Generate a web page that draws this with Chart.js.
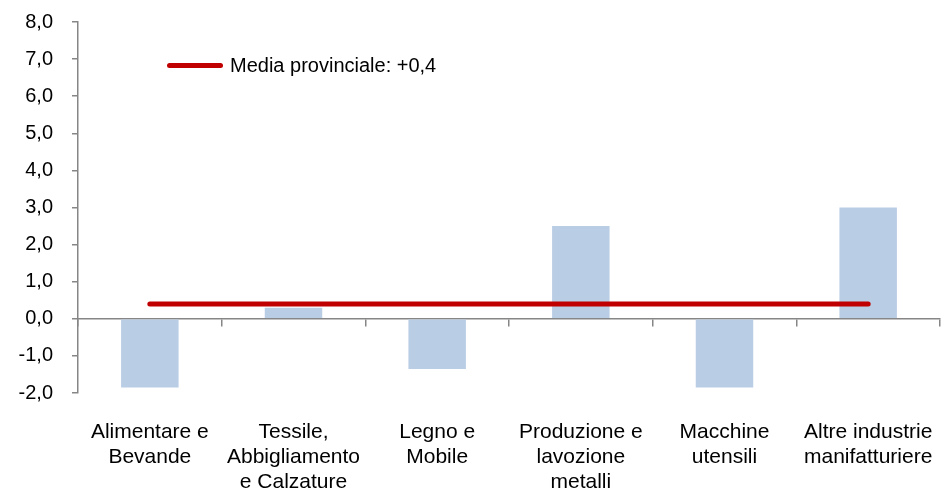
<!DOCTYPE html>
<html>
<head>
<meta charset="utf-8">
<script src="https://cdn.jsdelivr.net/npm/chart.js@4/dist/chart.umd.min.js"></script>
<style>
  body { margin: 0; background: #fff; }
  #wrap { position: relative; width: 941px; height: 490px; }
  #legend { position: absolute; left: 167px; top: 52px; height: 26px; display: flex; align-items: center;
            font-family: "Liberation Sans", Arial, sans-serif; font-size: 20px; color: #000; }
  #legend .swatch { display: inline-block; width: 56px; height: 5px; background: #C00000; border-radius: 3px; margin-right: 7px; }
</style>
</head>
<body>
<div id="wrap">
  <canvas id="chart" width="941" height="490"></canvas>
  <div id="legend"><span class="swatch"></span><span>Media provinciale: +0,4</span></div>
</div>
<script>
// categorie (settori)
var categorie = [
	['Alimentare e', 'Bevande'],
	['Tessile,', 'Abbigliamento', 'e Calzature'],
	['Legno e', 'Mobile'],
	['Produzione e', 'lavozione', 'metalli'],
	['Macchine', 'utensili'],
	['Altre industrie', 'manifatturiere']
];
// variazione per settore
var valori = [-1.85, 0.3, -1.35, 2.5, -1.85, 3.0];
// media provinciale
var media = [0.4, 0.4, 0.4, 0.4, 0.4, 0.4];

var grigio = '#868686';
var font = "'Liberation Sans', Arial, sans-serif";

var ctx = document.getElementById('chart');
var chart = new Chart(ctx, {
	type : 'bar',
	data : {
		labels : categorie,
		datasets : [ {
			type : 'line',
			label : 'Media provinciale: +0,4',
			data : media,
			borderColor : '#C00000',
			borderWidth : 5,
			borderCapStyle : 'round',
			pointRadius : 0,
			fill : false,
			xAxisID : 'x',
			yAxisID : 'y'
		}, {
			label : 'Settori',
			data : valori,
			backgroundColor : '#B9CDE5',
			borderWidth : 0,
			barPercentage : 0.4,
			categoryPercentage : 1.0,
			xAxisID : 'x',
			yAxisID : 'y'
		} ]
	},
	options : {
		responsive : false,
		animation : false,
		layout : {
			padding : { top : 22, right : 1, left : 0, bottom : 0 }
		},
		plugins : {
			legend : { display : false },
			tooltip : { enabled : false }
		},
		scales : {
			x : {
				type : 'category',
				offset : true,
				grid : { display : false, drawTicks : false, offset : true },
				border : { display : false },
				ticks : {
					autoSkip : false,
					maxRotation : 0,
					padding : 27,
					color : '#000',
					font : { family : font, size : 21, lineHeight : 1.18 }
				},
				afterFit : function(scale) {
					scale.height = 97;
					scale.paddingLeft = 0;
					scale.paddingRight = 0;
				}
			},
			x2 : {
				type : 'category',
				position : { y : 0 },
				offset : true,
				grid : {
					offset : true,
					drawOnChartArea : false,
					drawTicks : true,
					tickLength : 7,
					color : grigio,
					lineWidth : 1.5
				},
				border : { display : true, color : grigio, width : 1.5 },
				ticks : { display : false }
			},
			y : {
				min : -2,
				max : 8,
				grid : {
					drawOnChartArea : false,
					drawTicks : true,
					tickLength : 6,
					color : grigio,
					lineWidth : 1.5
				},
				border : { display : true, color : grigio, width : 1.5 },
				ticks : {
					stepSize : 1,
					padding : 19,
					color : '#000',
					font : { family : font, size : 20 },
					callback : function(v) { return v.toFixed(1).replace('.', ','); }
				},
				afterFit : function(scale) {
					scale.width = 78;
					scale.paddingTop = 0;
					scale.paddingBottom = 0;
				}
			}
		}
	}
});
</script>
</body>
</html>
